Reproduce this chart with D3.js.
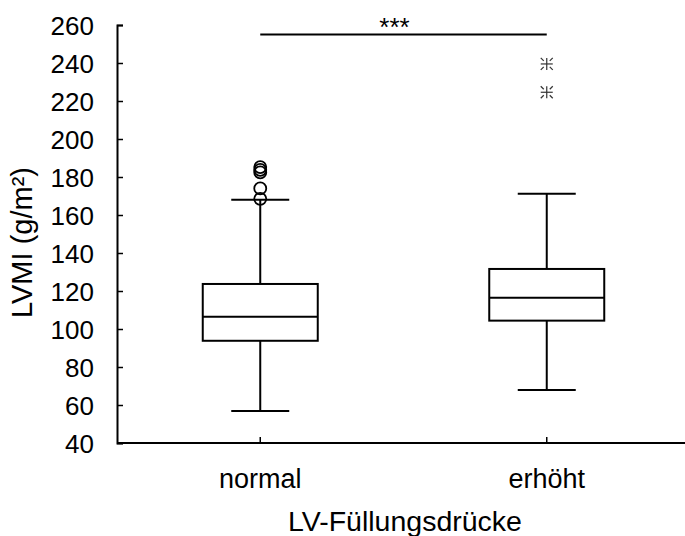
<!DOCTYPE html>
<html>
<head>
<meta charset="utf-8">
<script src="https://cdn.jsdelivr.net/npm/d3@7"></script>
<style>
  html, body { margin: 0; padding: 0; background: #fff; }
  svg { display: block; }
  text { font-family: "Liberation Sans", Arial, sans-serif; fill: #000; }
</style>
</head>
<body>
<svg id="chart" width="685" height="536"></svg>
<script>
// LV mass index by LV filling pressure group
const categories = ["normal", "erhöht"];
const whiskerLow = [56.8, 67.9];
const q1 = [93.8, 104.4];
const median = [106.5, 116.5];
const q3 = [123.7, 131.6];
const whiskerHigh = [168.0, 171.2];
// mild outliers (circles) and extreme values (stars)
const outliersNormal = [168.5, 174.0, 182.4, 183.8, 185.2];
const extremesErhoeht = [224.6, 239.5];
const yTicks = [40, 60, 80, 100, 120, 140, 160, 180, 200, 220, 240, 260];
const significance = "***";
const sigLevel = 255;

const svg = d3.select("#chart");
const plotLeft = 117, plotRight = 690, plotTop = 25, plotBottom = 443;

const y = d3.scaleLinear().domain([40, 260]).range([plotBottom, plotTop]);
const x = d3.scaleBand().domain(categories).range([plotLeft, plotRight]).padding(0);
const cx = c => x(c) + x.bandwidth() / 2;
const boxW = 115, capW = 58;

// y axis with inward ticks
const yAxis = svg.append("g").attr("transform", `translate(${plotLeft},0)`)
  .call(d3.axisLeft(y).tickValues(yTicks).tickSize(-6).tickPadding(23));
yAxis.select(".domain").attr("stroke", "#000").attr("stroke-width", 2);
yAxis.selectAll(".tick line").attr("stroke", "#000").attr("stroke-width", 1.5);
yAxis.selectAll(".tick text").style("font-size", "26px").attr("dy", "0.35em");

// x axis with inward ticks
const xAxis = svg.append("g").attr("transform", `translate(0,${plotBottom})`)
  .call(d3.axisBottom(x).tickSize(-6).tickPadding(26));
xAxis.select(".domain").attr("stroke", "#000").attr("stroke-width", 2)
  .attr("d", `M${plotLeft},0H${plotRight}`);
xAxis.selectAll(".tick line").attr("stroke", "#000").attr("stroke-width", 1.5);
xAxis.selectAll(".tick text").style("font-size", "27px").attr("dy", "0.71em");

const stats = categories.map((c, i) => ({
  c, lo: whiskerLow[i], q1: q1[i], med: median[i], q3: q3[i], hi: whiskerHigh[i]
}));

const g = svg.append("g").attr("stroke", "#000").attr("stroke-width", 2).attr("fill", "none");

stats.forEach(d => {
  const m = cx(d.c);
  // whiskers
  g.append("line").attr("x1", m).attr("x2", m).attr("y1", y(d.q3)).attr("y2", y(d.hi));
  g.append("line").attr("x1", m).attr("x2", m).attr("y1", y(d.q1)).attr("y2", y(d.lo));
  g.append("line").attr("x1", m - capW / 2).attr("x2", m + capW / 2).attr("y1", y(d.hi)).attr("y2", y(d.hi));
  g.append("line").attr("x1", m - capW / 2).attr("x2", m + capW / 2).attr("y1", y(d.lo)).attr("y2", y(d.lo));
  // box
  g.append("rect").attr("x", m - boxW / 2).attr("width", boxW)
    .attr("y", y(d.q3)).attr("height", y(d.q1) - y(d.q3)).attr("fill", "#fff");
  g.append("line").attr("x1", m - boxW / 2).attr("x2", m + boxW / 2).attr("y1", y(d.med)).attr("y2", y(d.med));
});

// outlier circles
g.selectAll("circle.out").data(outliersNormal).enter().append("circle")
  .attr("class", "out").attr("cx", cx(categories[0])).attr("cy", v => y(v))
  .attr("r", 6).attr("stroke-width", 1.8).attr("fill", "none");

// extreme value stars
const star = svg.append("g").attr("stroke", "#333").attr("stroke-width", 1.2);
extremesErhoeht.forEach(v => {
  const sx = cx(categories[1]), sy = y(v);
  const s = star.append("g").attr("transform", `translate(${sx},${sy})`);
  s.append("line").attr("x1", 0).attr("x2", 0).attr("y1", -6).attr("y2", 6);
  s.append("line").attr("x1", -6).attr("x2", 6).attr("y1", 0).attr("y2", 0);
  [[1, 1], [1, -1], [-1, 1], [-1, -1]].forEach(([a, b]) => {
    s.append("line").attr("x1", a * 3).attr("y1", b * 3).attr("x2", a * 6).attr("y2", b * 6);
  });
});

// significance bracket
const x0 = cx(categories[0]), x1 = cx(categories[1]);
svg.append("line").attr("x1", x0).attr("x2", x1).attr("y1", y(sigLevel)).attr("y2", y(sigLevel))
  .attr("stroke", "#000").attr("stroke-width", 2);
svg.append("text").attr("x", (x0 + x1) / 2 - 9).attr("y", y(sigLevel) + 1)
  .attr("text-anchor", "middle").style("font-size", "26px").text(significance);

// axis titles
svg.append("text").attr("x", 405).attr("y", 531).attr("text-anchor", "middle")
  .style("font-size", "28.5px").text("LV-Füllungsdrücke");
svg.append("text").attr("transform", `translate(32,242.5) rotate(-90)`)
  .attr("text-anchor", "middle").style("font-size", "29px").text("LVMI (g/m²)");
</script>
</body>
</html>
